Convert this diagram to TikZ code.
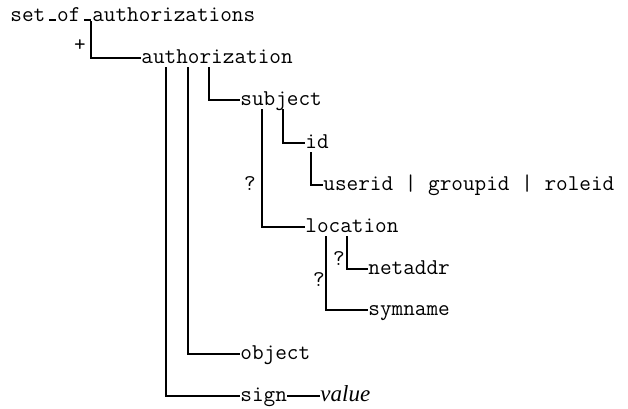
\documentclass[tikz,border=0pt]{standalone}
\usepackage{fontspec}
\setmainfont{Liberation Serif}
\usetikzlibrary{calc}
% short baseline underscore, one typewriter cell wide
\newcommand\tyunder{\makebox[0.525em][r]{\rule{0.32em}{0.09em}\hspace{0.05em}}}
\begin{document}
\begin{tikzpicture}[x=0.5pt,y=-0.5pt,
  el/.style={inner sep=0pt, anchor=west, font=\ttfamily\fontsize{11.3pt}{13pt}\selectfont,
             text height=5pt, text depth=0pt},
  occ/.style={inner sep=0pt, font=\ttfamily\fontsize{11.3pt}{13pt}\selectfont},
  link/.style={line width=1.1pt}]
\useasboundingbox (0,0) rectangle (628,408);

% elements
\node[el] (root)     at (10,16)  {set\tyunder of\tyunder authorizations};
\node[el] (auth)     at (141,58) {authorization};
\node[el] (subject)  at (240,100) {subject};
\node[el] (id)       at (305,143) {id};
\node[el] (userid)   at (323,185) {userid | groupid | roleid};
\node[el] (location) at (305,227) {location};
\node[el] (netaddr)  at (368,269) {netaddr};
\node[el] (symname)  at (368,310) {symname};
\node[el] (object)   at (240,354) {object};
\node[el] (sign)     at (240,396) {sign};
\node[el, font=\rmfamily\itshape\fontsize{11.5pt}{13pt}\selectfont] (value) at (320,396) {value};

% occurrence markers
\node[occ] (plus) at (80,46)  {+};
\node[occ] (opt1) at (250,184) {?};
\node[occ] (opt2) at (339,259) {?};
\node[occ] (opt3) at (319,280) {?};

% tree links
\draw[link] ($(root.south west)+(81,0)$) |- (auth.west);
\draw[link] ($(auth.south west)+(25,4)$) |- (sign.west);
\draw[link] ($(auth.south west)+(47,4)$) |- (object.west);
\draw[link] ($(auth.south west)+(68,4)$) |- (subject.west);
\draw[link] ($(subject.south west)+(22,4)$) |- (location.west);
\draw[link] ($(subject.south west)+(43,4)$) |- (id.west);
\draw[link] ($(id.south west)+(6,4)$) |- (userid.west);
\draw[link] ($(location.south west)+(21,4)$) |- (symname.west);
\draw[link] ($(location.south west)+(42,4)$) |- (netaddr.west);
\draw[link] (sign.east) -- (value.west);
\end{tikzpicture}
\end{document}
